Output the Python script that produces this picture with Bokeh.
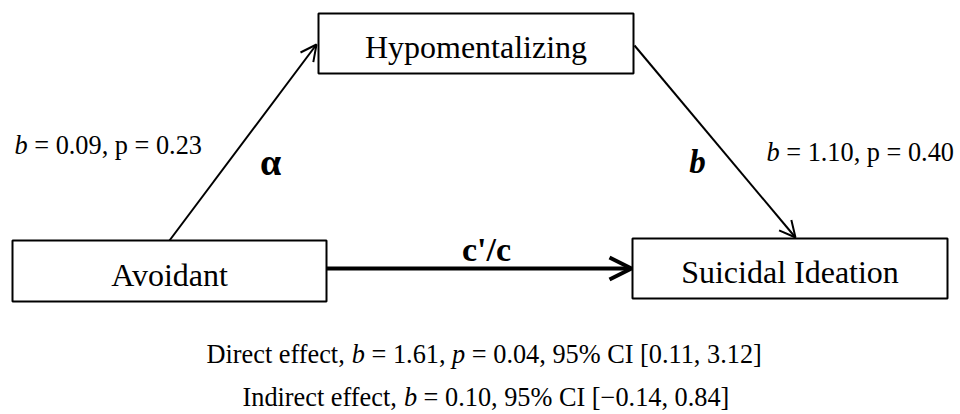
from bokeh.plotting import figure
from bokeh.models import Range1d, Arrow, OpenHead, ColumnDataSource
from bokeh.core.properties import value
from bokeh.embed import file_html
from bokeh.resources import INLINE

# ---------------- data ----------------
node_names = ["Hypomentalizing", "Avoidant", "Suicidal Ideation"]
node_left = [318, 12, 632]
node_right = [633, 326, 947]
node_top = [13, 240, 238]
node_bottom = [73, 301, 298]

path_names = ["\u03b1", "b", "c'/c"]
coef_a_b, coef_a_p = "0.09", "0.23"
coef_b_b, coef_b_p = "1.10", "0.40"
direct_b, direct_p, direct_ci = "1.61", "0.04", ("0.11", "3.12")
indirect_b, indirect_ci = "0.10", ("\u22120.14", "0.84")

# ---------------- figure ----------------
W_PX, H_PX = 960, 414
p = figure(width=W_PX, height=H_PX, output_backend="svg", toolbar_location=None,
           x_range=Range1d(0, W_PX), y_range=Range1d(H_PX, 0),
           min_border=0, tools="")
p.axis.visible = False
p.grid.visible = False
p.outline_line_color = None
p.background_fill_color = "white"
p.border_fill_color = "white"

FONT = value("Liberation Serif")
BL = 0.32  # baseline correction factor (fraction of font size)


def by(baseline, size):
    return baseline - BL * size


# boxes
p.quad(left=node_left, right=node_right, top=node_top, bottom=node_bottom,
       fill_color="white", line_color="black", line_width=2)

# node labels
NODE_SZ = 32
cx = [(l + r) / 2 for l, r in zip(node_left, node_right)]
cy = [by((t + b) / 2 + 14, NODE_SZ) for t, b in zip(node_top, node_bottom)]
p.text(x=cx, y=cy, text=node_names, text_font=FONT, text_font_size=value(f"{NODE_SZ}px"),
       text_align="center", text_baseline="alphabetic", text_color="black")

# arrows
thin = ColumnDataSource(dict(x0=[169, 634], y0=[240, 45], x1=[316, 795], y1=[44, 237]))
p.add_layout(Arrow(end=OpenHead(size=16, line_width=2, line_color="black"),
                   x_start="x0", y_start="y0", x_end="x1", y_end="y1",
                   source=thin, line_width=2, line_color="black"))
thick = ColumnDataSource(dict(x0=[node_right[1]], y0=[268], x1=[node_left[2] - 1], y1=[268]))
p.add_layout(Arrow(end=OpenHead(size=22, line_width=4, line_color="black"),
                   x_start="x0", y_start="y0", x_end="x1", y_end="y1",
                   source=thick, line_width=4, line_color="black"))

# path labels
p.text(x=[270], y=[by(174, 38)], text=[path_names[0]], text_font=FONT, text_font_size=value("38px"),
       text_font_style="bold", text_align="center", text_baseline="alphabetic")
p.text(x=[697], y=[by(172, 33)], text=[path_names[1]], text_font=FONT, text_font_size=value("33px"),
       text_font_style="bold italic", text_align="center", text_baseline="alphabetic")
p.text(x=[486], y=[by(260, 34)], text=[path_names[2]], text_font=FONT, text_font_size=value("34px"),
       text_font_style="bold", text_align="center", text_baseline="alphabetic")

# mixed style text lines
WID = {' ': 250, ',': 250, '.': 250, '=': 564, '%': 833, '[': 333, ']': 333, '\u2212': 564,
       'C': 667, 'I': 333, 'D': 722, 'i': 278, 'r': 333, 'e': 444, 'c': 444, 't': 278,
       'f': 333, 'n': 500, 'd': 500, 'p': 500, 'b': 500}


def tw(s, size):
    return sum(WID.get(ch, 500) for ch in s) * size / 1000.0


def draw_line(segments, x0, baseline, size):
    cur = x0
    y = by(baseline, size)
    groups = {"normal": ([], [], []), "italic": ([], [], [])}
    for txt, style in segments:
        lead = len(txt) - len(txt.lstrip())
        xs = cur + tw(txt[:lead], size)
        g = groups[style]
        g[0].append(xs); g[1].append(y); g[2].append(txt.strip())
        cur += tw(txt, size)
    for style, (xs, ys, ts) in groups.items():
        if ts:
            p.text(x=xs, y=ys, text=ts, text_font=FONT, text_font_size=value(f"{size}px"),
                   text_font_style=style, text_align="left", text_baseline="alphabetic",
                   text_color="black")


SZ = 26.3
draw_line([("b", "italic"), (f" = {coef_a_b}, p = {coef_a_p}", "normal")], 14, 153, SZ)
draw_line([("b", "italic"), (f" = {coef_b_b}, p = {coef_b_p}", "normal")], 766, 160, SZ)
draw_line([("Direct effect, ", "normal"), ("b", "italic"), (f" = {direct_b}, ", "normal"),
           ("p", "italic"), (f" = {direct_p}, 95% CI [{direct_ci[0]}, {direct_ci[1]}]", "normal")],
          206, 362, SZ)
draw_line([("Indirect effect, ", "normal"), ("b", "italic"),
           (f" = {indirect_b}, 95% CI [{indirect_ci[0]}, {indirect_ci[1]}]", "normal")],
          242, 405, SZ)

open("out.html", "w").write(file_html(p, INLINE))
